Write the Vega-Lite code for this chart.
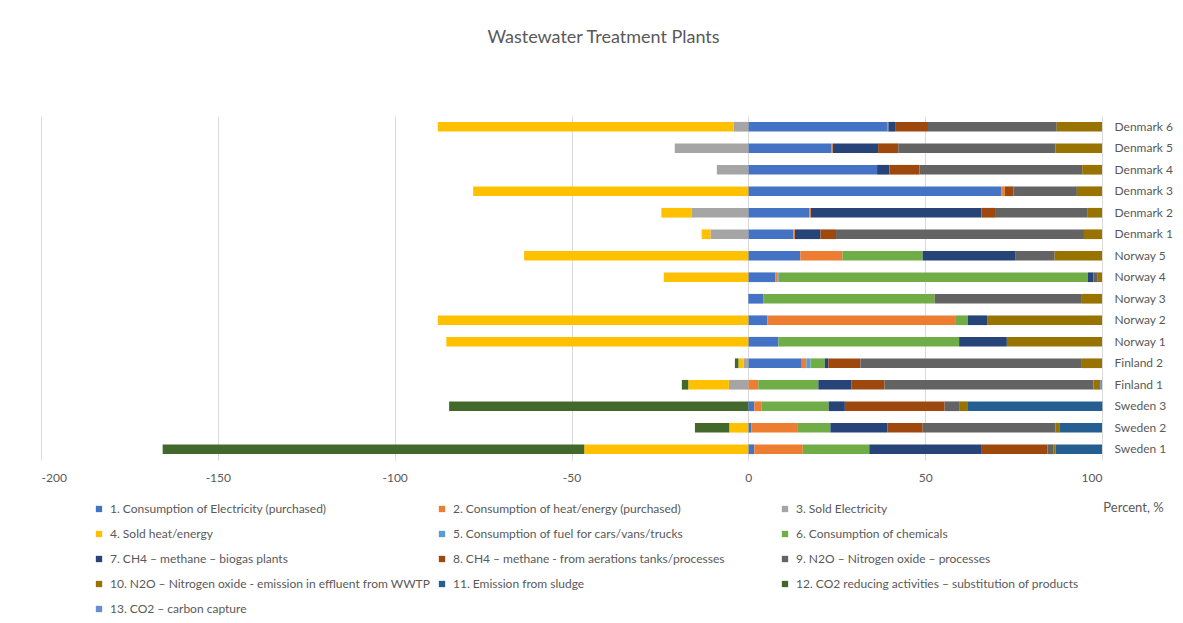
{
  "$schema": "https://vega.github.io/schema/vega-lite/v6.json",
  "width": 1061,
  "height": 344,
  "autosize": {"type": "none"},
  "padding": {"left": 41, "top": 116, "right": 81, "bottom": 163},
  "background": "white",
  "title": {"text": "Wastewater Treatment Plants", "fontSize": 18, "font": "Lato", "fontWeight": "normal", "color": "#595959", "anchor": "middle", "dx": 32, "offset": 69},
  "config": {"view": {"stroke": null}, "font": "Lato"},
  "datasets": {
    "cats": [
      {"n": 1, "cat": "1. Consumption of Electricity (purchased)"},
      {"n": 2, "cat": "2. Consumption of heat/energy (purchased)"},
      {"n": 3, "cat": "3. Sold Electricity"},
      {"n": 4, "cat": "4. Sold heat/energy"},
      {"n": 5, "cat": "5. Consumption of fuel for cars/vans/trucks"},
      {"n": 6, "cat": "6. Consumption of chemicals"},
      {"n": 7, "cat": "7. CH4 – methane – biogas plants"},
      {"n": 8, "cat": "8. CH4 – methane - from aerations tanks/processes"},
      {"n": 9, "cat": "9. N2O – Nitrogen oxide  – processes"},
      {"n": 10, "cat": "10. N2O – Nitrogen oxide - emission in effluent from WWTP"},
      {"n": 11, "cat": "11. Emission from sludge"},
      {"n": 12, "cat": "12. CO2 reducing activities – substitution of products"},
      {"n": 13, "cat": "13. CO2 – carbon capture"}
    ],
    "rows": [
      {"p": "Denmark 6", "n": 1, "v": 39.2}, {"p": "Denmark 6", "n": 2, "v": 0.4}, {"p": "Denmark 6", "n": 7, "v": 1.9}, {"p": "Denmark 6", "n": 8, "v": 9.3}, {"p": "Denmark 6", "n": 9, "v": 36.4}, {"p": "Denmark 6", "n": 10, "v": 12.8}, {"p": "Denmark 6", "n": 3, "v": -4.2}, {"p": "Denmark 6", "n": 4, "v": -83.6},
      {"p": "Denmark 5", "n": 1, "v": 23.4}, {"p": "Denmark 5", "n": 2, "v": 0.5}, {"p": "Denmark 5", "n": 7, "v": 12.8}, {"p": "Denmark 5", "n": 8, "v": 5.7}, {"p": "Denmark 5", "n": 9, "v": 44.4}, {"p": "Denmark 5", "n": 10, "v": 13.2}, {"p": "Denmark 5", "n": 3, "v": -20.8},
      {"p": "Denmark 4", "n": 1, "v": 36.4}, {"p": "Denmark 4", "n": 7, "v": 3.5}, {"p": "Denmark 4", "n": 8, "v": 8.5}, {"p": "Denmark 4", "n": 9, "v": 46.0}, {"p": "Denmark 4", "n": 10, "v": 5.6}, {"p": "Denmark 4", "n": 3, "v": -8.9},
      {"p": "Denmark 3", "n": 1, "v": 71.5}, {"p": "Denmark 3", "n": 2, "v": 1.0}, {"p": "Denmark 3", "n": 8, "v": 2.5}, {"p": "Denmark 3", "n": 9, "v": 17.9}, {"p": "Denmark 3", "n": 10, "v": 7.1}, {"p": "Denmark 3", "n": 4, "v": -77.8},
      {"p": "Denmark 2", "n": 1, "v": 17.3}, {"p": "Denmark 2", "n": 2, "v": 0.4}, {"p": "Denmark 2", "n": 7, "v": 48.2}, {"p": "Denmark 2", "n": 8, "v": 4.1}, {"p": "Denmark 2", "n": 9, "v": 25.8}, {"p": "Denmark 2", "n": 10, "v": 4.2}, {"p": "Denmark 2", "n": 3, "v": -16.1}, {"p": "Denmark 2", "n": 4, "v": -8.5},
      {"p": "Denmark 1", "n": 1, "v": 12.7}, {"p": "Denmark 1", "n": 2, "v": 0.5}, {"p": "Denmark 1", "n": 7, "v": 7.2}, {"p": "Denmark 1", "n": 8, "v": 4.4}, {"p": "Denmark 1", "n": 9, "v": 70.1}, {"p": "Denmark 1", "n": 10, "v": 5.1}, {"p": "Denmark 1", "n": 3, "v": -10.7}, {"p": "Denmark 1", "n": 4, "v": -2.5},
      {"p": "Norway 5", "n": 1, "v": 14.7}, {"p": "Norway 5", "n": 2, "v": 11.9}, {"p": "Norway 5", "n": 6, "v": 22.7}, {"p": "Norway 5", "n": 7, "v": 26.3}, {"p": "Norway 5", "n": 9, "v": 11.0}, {"p": "Norway 5", "n": 10, "v": 13.4}, {"p": "Norway 5", "n": 4, "v": -63.4},
      {"p": "Norway 4", "n": 1, "v": 7.6}, {"p": "Norway 4", "n": 2, "v": 0.6}, {"p": "Norway 4", "n": 5, "v": 0.4}, {"p": "Norway 4", "n": 6, "v": 87.4}, {"p": "Norway 4", "n": 7, "v": 1.6}, {"p": "Norway 4", "n": 9, "v": 1.2}, {"p": "Norway 4", "n": 10, "v": 1.2}, {"p": "Norway 4", "n": 4, "v": -23.9},
      {"p": "Norway 3", "n": 1, "v": 4.2}, {"p": "Norway 3", "n": 6, "v": 48.5}, {"p": "Norway 3", "n": 9, "v": 41.6}, {"p": "Norway 3", "n": 10, "v": 5.7},
      {"p": "Norway 2", "n": 1, "v": 5.4}, {"p": "Norway 2", "n": 2, "v": 53.3}, {"p": "Norway 2", "n": 6, "v": 3.4}, {"p": "Norway 2", "n": 7, "v": 5.4}, {"p": "Norway 2", "n": 10, "v": 32.5}, {"p": "Norway 2", "n": 4, "v": -87.8},
      {"p": "Norway 1", "n": 1, "v": 8.5}, {"p": "Norway 1", "n": 6, "v": 51.1}, {"p": "Norway 1", "n": 7, "v": 13.5}, {"p": "Norway 1", "n": 10, "v": 26.9}, {"p": "Norway 1", "n": 4, "v": -85.4},
      {"p": "Finland 2", "n": 1, "v": 15.1}, {"p": "Finland 2", "n": 2, "v": 1.3}, {"p": "Finland 2", "n": 5, "v": 1.2}, {"p": "Finland 2", "n": 6, "v": 4.0}, {"p": "Finland 2", "n": 7, "v": 1.0}, {"p": "Finland 2", "n": 8, "v": 9.1}, {"p": "Finland 2", "n": 9, "v": 62.6}, {"p": "Finland 2", "n": 10, "v": 5.7}, {"p": "Finland 2", "n": 3, "v": -1.3}, {"p": "Finland 2", "n": 4, "v": -1.5}, {"p": "Finland 2", "n": 12, "v": -1.0},
      {"p": "Finland 1", "n": 2, "v": 2.8}, {"p": "Finland 1", "n": 6, "v": 17.0}, {"p": "Finland 1", "n": 7, "v": 9.3}, {"p": "Finland 1", "n": 8, "v": 9.4}, {"p": "Finland 1", "n": 9, "v": 59.1}, {"p": "Finland 1", "n": 10, "v": 1.9}, {"p": "Finland 1", "n": 13, "v": 0.5}, {"p": "Finland 1", "n": 3, "v": -5.5}, {"p": "Finland 1", "n": 4, "v": -11.5}, {"p": "Finland 1", "n": 12, "v": -1.8},
      {"p": "Sweden 3", "n": 1, "v": 1.7}, {"p": "Sweden 3", "n": 2, "v": 2.1}, {"p": "Sweden 3", "n": 6, "v": 18.9}, {"p": "Sweden 3", "n": 7, "v": 4.6}, {"p": "Sweden 3", "n": 8, "v": 28.2}, {"p": "Sweden 3", "n": 9, "v": 4.1}, {"p": "Sweden 3", "n": 10, "v": 2.5}, {"p": "Sweden 3", "n": 11, "v": 38.0}, {"p": "Sweden 3", "n": 12, "v": -84.6},
      {"p": "Sweden 2", "n": 1, "v": 0.8}, {"p": "Sweden 2", "n": 2, "v": 13.0}, {"p": "Sweden 2", "n": 6, "v": 9.4}, {"p": "Sweden 2", "n": 7, "v": 16.1}, {"p": "Sweden 2", "n": 8, "v": 10.0}, {"p": "Sweden 2", "n": 9, "v": 37.5}, {"p": "Sweden 2", "n": 10, "v": 1.3}, {"p": "Sweden 2", "n": 11, "v": 11.9}, {"p": "Sweden 2", "n": 4, "v": -5.4}, {"p": "Sweden 2", "n": 12, "v": -9.7},
      {"p": "Sweden 1", "n": 1, "v": 1.7}, {"p": "Sweden 1", "n": 2, "v": 13.7}, {"p": "Sweden 1", "n": 6, "v": 18.8}, {"p": "Sweden 1", "n": 7, "v": 31.6}, {"p": "Sweden 1", "n": 8, "v": 18.8}, {"p": "Sweden 1", "n": 9, "v": 1.6}, {"p": "Sweden 1", "n": 10, "v": 0.7}, {"p": "Sweden 1", "n": 11, "v": 13.1}, {"p": "Sweden 1", "n": 4, "v": -46.4}, {"p": "Sweden 1", "n": 12, "v": -119.2}
    ]
  },
  "data": {"name": "rows"},
  "transform": [{"lookup": "n", "from": {"data": {"name": "cats"}, "key": "n", "fields": ["cat"]}}],
  "mark": {"type": "bar"},
  "encoding": {
    "y": {
      "field": "p", "type": "nominal",
      "sort": ["Denmark 6", "Denmark 5", "Denmark 4", "Denmark 3", "Denmark 2", "Denmark 1", "Norway 5", "Norway 4", "Norway 3", "Norway 2", "Norway 1", "Finland 2", "Finland 1", "Sweden 3", "Sweden 2", "Sweden 1"],
      "scale": {"paddingInner": 0.55, "paddingOuter": 0.275},
      "axis": {"orient": "right", "title": null, "ticks": false, "domain": false, "grid": false, "labelPadding": 12, "labelFontSize": 12, "labelColor": "#595959", "labelFont": "Lato"}
    },
    "x": {
      "field": "v", "type": "quantitative", "stack": "zero",
      "scale": {"domain": [-200, 100], "nice": false},
      "axis": {"values": [-200, -150, -100, -50, 0, 50, 100], "labelExpr": "'' + datum.value", "grid": true, "gridColor": "#d9d9d9", "domain": false, "ticks": false, "labelPadding": 12, "labelFontSize": 12, "labelColor": "#595959", "labelFont": "Lato", "title": "Percent, %", "titleFont": "Lato", "titleFontWeight": "normal", "titleFontSize": 13, "titleColor": "#595959", "titleX": 1092, "titleY": 47, "titleAlign": "center", "titleBaseline": "middle"}
    },
    "color": {
      "field": "cat", "type": "nominal",
      "scale": {
        "domain": ["1. Consumption of Electricity (purchased)", "2. Consumption of heat/energy (purchased)", "3. Sold Electricity", "4. Sold heat/energy", "5. Consumption of fuel for cars/vans/trucks", "6. Consumption of chemicals", "7. CH4 – methane – biogas plants", "8. CH4 – methane - from aerations tanks/processes", "9. N2O – Nitrogen oxide  – processes", "10. N2O – Nitrogen oxide - emission in effluent from WWTP", "11. Emission from sludge", "12. CO2 reducing activities – substitution of products", "13. CO2 – carbon capture"],
        "range": ["#4472C4", "#ED7D31", "#A5A5A5", "#FFC000", "#5B9BD5", "#70AD47", "#264478", "#9E480E", "#636363", "#997300", "#255E91", "#43682B", "#698ED0"]
      },
      "legend": {"title": null, "orient": "none", "direction": "horizontal", "legendX": 52, "legendY": 387, "padding": 0, "columns": 3, "gridAlign": "all", "columnPadding": 5, "rowPadding": 13, "symbolType": "square", "symbolSize": 40, "symbolStrokeWidth": 0, "labelFontSize": 12, "labelColor": "#595959", "labelFont": "Lato", "labelLimit": 500, "labelOffset": 5}
    },
    "order": {"field": "n", "type": "quantitative"}
  }
}
